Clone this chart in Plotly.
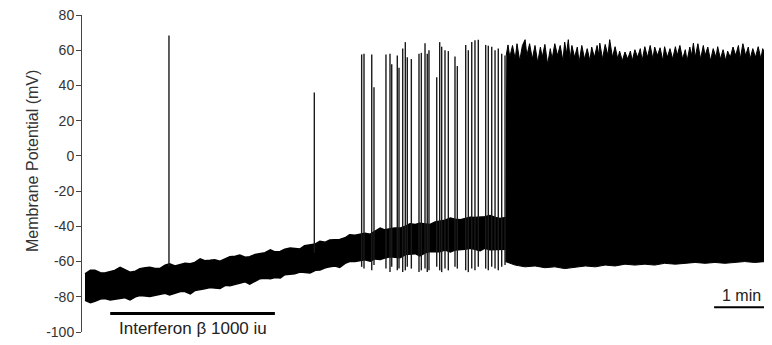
import plotly.graph_objects as go

# ---------------- data (time in s, potential in mV) ----------------
# slowly depolarising baseline band (upper / lower envelope of the noisy trace)
base_t = [0, 6, 11, 17, 22, 28, 33, 39, 44, 50, 56, 61, 67, 72, 78, 83, 89, 94, 100,
          106, 111, 117, 122, 128, 133, 139, 144, 150, 156, 161, 167, 172, 178, 183,
          189, 194, 200, 206, 211, 217, 222, 228, 233, 239, 244, 250, 256, 261, 267,
          272, 278, 283, 289, 294, 300, 306, 311, 317, 322, 328, 333, 339, 344, 350,
          356, 361, 367, 372, 378, 383, 389, 394, 400, 406, 411, 417, 422, 428, 433,
          439, 444, 450, 456, 461, 467]
base_top = [-67, -65, -65, -66.3, -66.5, -65.8, -65, -63.3, -64.5, -66,
            -65.5, -64, -63.5, -63.3, -64, -64, -62, -61.3, -62.5, -61.8,
            -61, -61.3, -60.5, -58.5, -59.5, -59.3, -59, -59.8, -58.5, -57.3,
            -57, -56.3, -57.5, -57.3, -56, -55.5, -55, -53.3, -54.5, -54.3,
            -53, -52.3, -52.5, -52.8, -51, -50.5, -50, -48.5, -49, -47.8,
            -47.5, -47.5, -46.5, -44.8, -45, -44.5, -44, -44.5, -43, -41,
            -42, -41.5, -41, -41, -40, -38.5, -39, -38.3, -38.5, -39,
            -37.5, -37, -36.5, -35.3, -36, -36.3, -35.5, -34.8, -35, -34.8,
            -34.5, -33.8, -35, -35.5, -35]
base_bottom = [-82, -83.3, -82.5, -81.3, -81, -81.8, -81.5, -81, -80.5, -81.8,
               -80, -79.3, -79.5, -79.8, -79, -78.5, -78, -79, -78, -77,
               -77, -78.3, -76.5, -76, -75.5, -74.8, -75, -75.3, -73.5, -73.8,
               -73, -72.3, -71.5, -72.8, -71, -69.8, -69.5, -69.8, -69, -69.3,
               -67.5, -67.3, -67, -66, -66, -66.5, -65, -64.8, -63.5, -63,
               -62.5, -63.3, -61, -60, -60, -59.5, -59, -59.8, -58.5, -58.8,
               -58, -57.3, -57.5, -57.8, -56, -55.8, -55.5, -56.8, -55, -54.3,
               -54.5, -54.5, -53.5, -54.5, -53.5, -53.3, -53, -52.5, -53, -53.8,
               -52.5, -53.3, -53, -53, -53]

# individual action potentials (time, peak, trough)
spike_t = [93.3, 254.8, 307.4, 310, 318.6, 321.1, 334.4, 338.9, 340.8, 347, 348.9, 353,
           355.9, 358.1, 362.6, 371.1, 373.7, 377.8, 380.3, 382.2, 390.8, 394.1, 396.3,
           400, 403.7, 411.1, 413.7, 423, 425.9, 429.7, 433.3, 437, 445.2, 448.1, 451.9,
           455.6, 459.2, 463, 466.7]
spike_peak = [68.4, 36, 57.6, 58, 57.6, 39, 57.6, 58, 52, 57, 50, 61, 64.6, 56, 55, 58,
              58.5, 64, 58, 60, 44.7, 64.6, 62, 60, 59.5, 56.5, 51, 63, 60, 64.6, 65.6,
              66, 63, 62.5, 62, 60, 61, 58, 57]
spike_trough = [-63, -55, -63, -64, -65, -62, -64, -66, -63, -65, -64, -66, -65, -63,
                -64, -66, -65, -64, -66, -65, -63, -65, -66, -64, -65, -63, -64, -65,
                -66, -64, -65, -63, -64, -65, -63, -64, -65, -63, -62]

# sustained high-frequency firing: upper edge of the spike train
dense_t = [468, 470, 472, 475, 478, 480, 483, 486, 489, 491, 494, 497, 500, 503, 506,
           508, 511, 514, 517, 519, 522, 525, 528, 531, 533, 535, 537, 539, 541, 544,
           547, 549, 552, 555, 558, 561, 563, 566, 569, 571, 572, 575, 578, 581, 583,
           586, 589, 592, 594, 597, 600, 603, 606, 608, 611, 614, 617, 619, 622, 625,
           628, 631, 633, 636, 639, 642, 644, 647, 650, 653, 656, 658, 661, 664, 667,
           669, 672, 674, 676, 678, 681, 684, 687, 689, 692, 695, 698, 701, 703, 706,
           709, 712, 714, 717, 720, 723, 726, 728, 731, 734, 737, 739, 742, 745, 748,
           751, 753, 756, 759, 762, 764]
dense_top = [57, 63, 56, 62.7, 55, 63.7, 54, 62.7, 66, 57, 63.7, 55, 62.7, 53, 61.8,
             56, 63.3, 52, 60.9, 55, 63.7, 57, 62.7, 54, 64.6, 58, 66, 55, 62.7, 56,
             61.8, 53, 62.7, 55, 60.9, 54, 61.8, 56, 62.7, 57, 64, 55, 63.3, 57, 66,
             56, 62, 55, 59.5, 54, 59, 55, 59.5, 54, 60.3, 56, 60.9, 54, 62, 56,
             62.7, 55, 61.8, 57, 61.4, 54, 62, 56, 60.9, 55, 62, 57, 62.7, 55, 60.3,
             54, 61.8, 57, 64, 56, 63.7, 55, 62.7, 57, 61.8, 54, 60.9, 56, 62, 55,
             60.3, 54, 59.5, 56, 61.8, 57, 62.7, 55, 63.7, 57, 61.8, 55, 60.9, 56, 62,
             55, 60.9, 57, 61.8, 56, 60]
# lower edge of the spike train (after-hyperpolarisations)
dense_bt = [467, 478, 489, 500, 511, 522, 533, 544, 556, 567, 578, 589, 600, 611, 622,
            633, 644, 656, 667, 678, 689, 700, 711, 722, 733, 744, 756, 764]
dense_bottom = [-60, -62, -63, -62.5, -63.5, -63, -64, -63.5, -62.5, -63, -62, -62.5,
                -61.5, -62, -61.5, -62, -61, -61.5, -61, -60.5, -61, -60.5, -61, -60.5,
                -60, -60.5, -60, -60]

y_ticks = [80, 60, 40, 20, 0, -20, -40, -60, -80, -100]
y_ticktext = [str(v) for v in y_ticks]

drug_label = "Interferon β 1000 iu"
drug_start, drug_end = 28, 211       # s, application bar
scale_start, scale_len = 699, 60     # s, 1 min scale bar

# ---------------- figure ----------------
fig = go.Figure()

fig.add_trace(go.Scatter(
    x=base_t + base_t[::-1], y=base_top + base_bottom[::-1],
    fill="toself", fillcolor="black", mode="lines",
    line=dict(color="black", width=1.5), hoverinfo="skip", showlegend=False))

fig.add_trace(go.Scatter(
    x=dense_t + dense_bt[::-1], y=dense_top + dense_bottom[::-1],
    fill="toself", fillcolor="black", mode="lines",
    line=dict(color="black", width=1), hoverinfo="skip", showlegend=False))

sx, sy = [], []
for t, p, tr in zip(spike_t, spike_peak, spike_trough):
    sx += [t, t, None]
    sy += [tr, p, None]
fig.add_trace(go.Scatter(x=sx, y=sy, mode="lines",
                         line=dict(color="#1a1a1a", width=1.4),
                         hoverinfo="skip", showlegend=False))

# application bar and scale bar
fig.add_shape(type="line", x0=drug_start, x1=drug_end, y0=-89.5, y1=-89.5,
              line=dict(color="black", width=3))
fig.add_annotation(x=(drug_start + drug_end) / 2, y=-98, text=drug_label,
                   showarrow=False, font=dict(size=17, color="#222"))
fig.add_shape(type="line", x0=scale_start, x1=scale_start + scale_len, y0=-86, y1=-86,
              line=dict(color="black", width=2))
fig.add_annotation(x=scale_start + scale_len / 2, y=-79.5, text="1 min",
                   showarrow=False, font=dict(size=16, color="#222"))

fig.add_annotation(xref="paper", yref="paper", x=(22 - 82) / 690, y=0.538,
                   text="Membrane Potential (mV)", textangle=-90, showarrow=False,
                   font=dict(size=16, color="#333"))

# the page body adds an 8 px offset; size the figure so the plot lands at x=82..772, y=15..332
fig.update_layout(
    width=764, height=337,
    margin=dict(l=74, r=0, t=7, b=13),
    paper_bgcolor="white", plot_bgcolor="white",
    font=dict(family="Arial, Liberation Sans, sans-serif", color="#333"),
    xaxis=dict(range=[-3.33, 763.33], visible=False),
    yaxis=dict(range=[-100, 80], tickvals=y_ticks, ticktext=y_ticktext,
               ticks="outside", ticklen=5, tickcolor="#444", showline=True,
               linecolor="#444", linewidth=1, showgrid=False, zeroline=False,
               ticklabeloverflow="allow", ticklabelstandoff=-1,
               tickfont=dict(size=14, color="#333")),
)

fig.write_html("out.html")
